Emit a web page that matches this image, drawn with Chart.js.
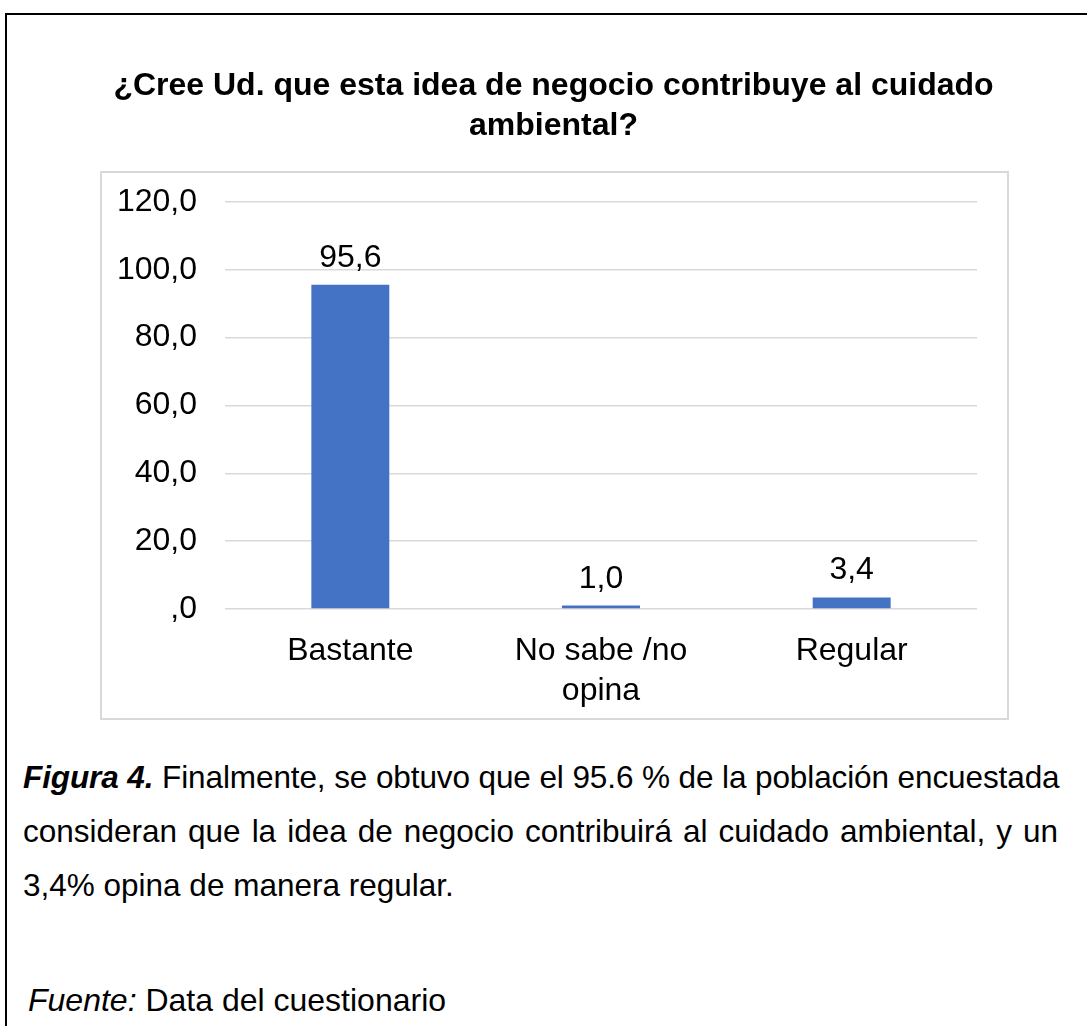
<!DOCTYPE html>
<html>
<head>
<meta charset="utf-8">
<script src="https://cdn.jsdelivr.net/npm/chart.js@4/dist/chart.umd.min.js"></script>
<style>
  html, body { margin: 0; padding: 0; background: #fff; }
  body { width: 1087px; height: 1026px; position: relative; overflow: hidden;
         font-family: "Liberation Sans", Arial, sans-serif; color: #000; }
  #outer { position: absolute; left: 5px; top: 13px; width: 1200px; height: 1200px;
           border: 2px solid #000; }
  #inner { position: absolute; left: 100px; top: 171px; width: 905px; height: 545px;
           border: 2px solid #d9d9d9; }
  #wrap { position: absolute; left: 100px; top: 0; width: 907px; height: 718px; }
  .txt { position: absolute; font-size: 31.5px; line-height: 54px; white-space: nowrap; }
  #caption { left: 23px; top: 750px; width: 1035px; }
  #caption div { text-align: justify; text-align-last: justify; }
  #caption div.last { text-align: left; text-align-last: left; }
  #source { left: 28px; top: 973px; font-size: 32px; }
</style>
</head>
<body>
<div id="outer"></div>
<div id="inner"></div>
<div id="wrap"><canvas id="chart"></canvas></div>
<div class="txt" id="caption">
  <div style="letter-spacing:-0.1px"><b><i>Figura 4.</i></b> Finalmente, se obtuvo que el 95.6 % de la población encuestada</div>
  <div>consideran que la idea de negocio contribuirá al cuidado ambiental, y un</div>
  <div class="last">3,4% opina de manera regular.</div>
</div>
<div class="txt" id="source"><i>Fuente:</i> Data del cuestionario</div>
<script>
const categories = ["Bastante", ["No sabe /no", "opina"], "Regular"];
const values = [95.6, 1.0, 3.4];
const titleLines = ["¿Cree Ud. que esta idea de negocio contribuye al cuidado", "ambiental?"];

const fmt = (v) => (v === 0 ? ",0" : v.toFixed(1).replace(".", ","));
const FONT = "'Liberation Sans', Arial, sans-serif";

// etiquetas de valor encima de las barras
const barLabels = {
  id: "barLabels",
  afterDatasetsDraw(chart) {
    const ctx = chart.ctx;
    ctx.save();
    ctx.font = "32px " + FONT;
    ctx.fillStyle = "#000";
    ctx.textAlign = "center";
    ctx.textBaseline = "alphabetic";
    chart.getDatasetMeta(0).data.forEach((bar, i) => {
      ctx.fillText(fmt(values[i]), bar.x, bar.y - 18);
    });
    ctx.restore();
  }
};

const ctx = document.getElementById("chart").getContext("2d");
new Chart(ctx, {
  type: "bar",
  data: {
    labels: categories,
    datasets: [{
      data: values,
      backgroundColor: "#4472C4",
      categoryPercentage: 1,
      barPercentage: 0.311
    }]
  },
  options: {
    responsive: true,
    maintainAspectRatio: false,
    animation: false,
    layout: { padding: 0 },
    plugins: {
      legend: { display: false },
      tooltip: { enabled: false },
      title: {
        display: true,
        text: titleLines,
        color: "#000",
        font: { family: FONT, size: 32, weight: "bold", lineHeight: 1.25 },
        padding: { top: 66, bottom: 56 }
      }
    },
    scales: {
      x: {
        grid: { display: false },
        border: { display: false },
        ticks: {
          color: "#000",
          padding: 14,
          maxRotation: 0,
          font: { family: FONT, size: 32, lineHeight: 1.25 }
        },
        afterFit: (axis) => { axis.height = 109; }
      },
      y: {
        min: 0,
        max: 120,
        grid: { color: "#d9d9d9", lineWidth: 1.5, drawTicks: false },
        border: { display: false },
        ticks: {
          stepSize: 20,
          color: "#000",
          padding: 28,
          font: { family: FONT, size: 32 },
          callback: (v) => fmt(v)
        },
        afterFit: (axis) => { axis.width = 125; }
      },
      // eje vacío a la derecha, solo para dejar el margen
      y2: {
        position: "right",
        grid: { display: false },
        border: { display: false },
        ticks: { display: false },
        afterFit: (axis) => { axis.width = 30; }
      }
    }
  },
  plugins: [barLabels]
});
</script>
</body>
</html>
